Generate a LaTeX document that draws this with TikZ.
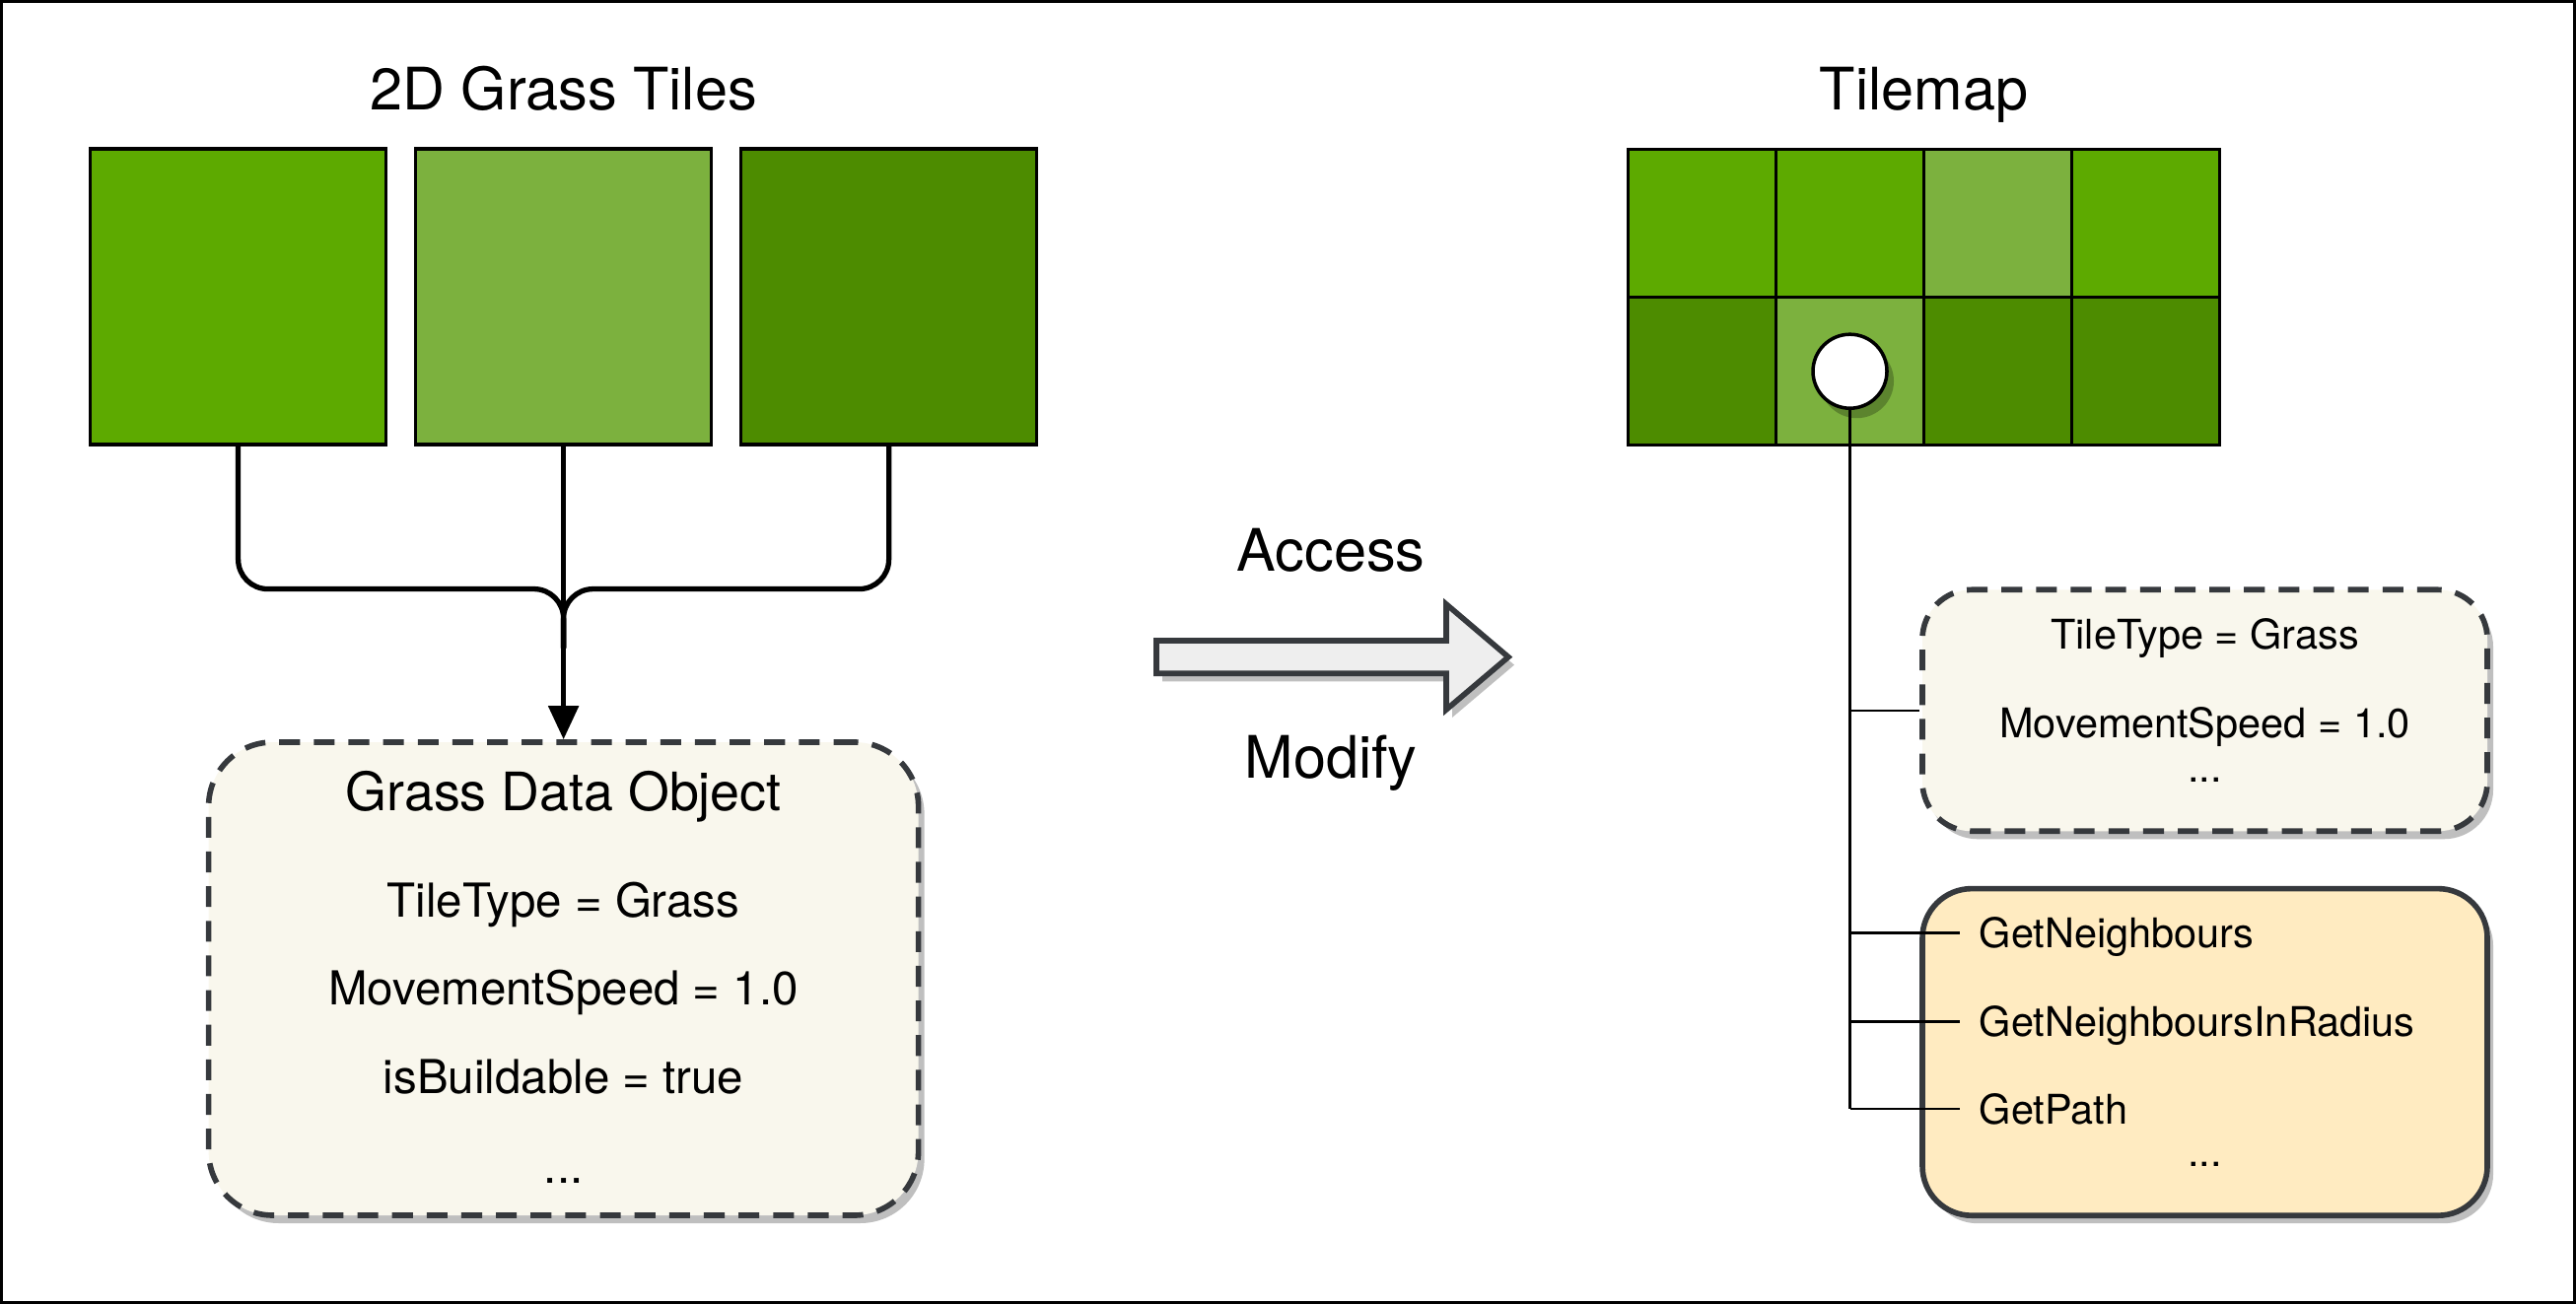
\documentclass[tikz,border=0pt]{standalone}
\usepackage{fontspec}
\setmainfont{TeX Gyre Heros}
\usetikzlibrary{arrows.meta,positioning,calc,shadows}

\definecolor{grassBright}{HTML}{5DAA00}
\definecolor{grassLight}{HTML}{7CB13E}
\definecolor{grassDark}{HTML}{4D8C00}
\definecolor{edgeGrey}{HTML}{36393D}
\definecolor{paperFill}{HTML}{F9F7ED}
\definecolor{methodFill}{HTML}{FFEBC1}
\definecolor{arrowFill}{HTML}{EEEEEE}

\newcommand{\fontTitle}{\fontsize{16.9}{20}\selectfont}
\newcommand{\fontHead}{\fontsize{15.3}{18}\selectfont}
\newcommand{\fontEntry}{\fontsize{13.5}{16}\selectfont}
\newcommand{\fontSmall}{\fontsize{11.8}{14}\selectfont}

\begin{document}
\begin{tikzpicture}[
    gtile/.style={draw=black,line width=1pt,minimum size=3cm,inner sep=0pt},
    gcell/.style={draw=black,line width=1pt,minimum size=1.5cm,inner sep=0pt},
    gshadow/.style={drop shadow={shadow xshift=0.06cm,shadow yshift=-0.08cm,
        fill=black,opacity=0.25}},
    gdata/.style={gshadow,draw=edgeGrey,fill=paperFill,line width=1.6pt,
        dash pattern=on 6pt off 4pt,rounded corners=0.65cm,inner sep=0pt},
    gmethods/.style={gshadow,draw=edgeGrey,fill=methodFill,line width=1.6pt,
        rounded corners=0.5cm,inner sep=0pt},
    gtitle/.style={font=\fontTitle,anchor=base,inner sep=0pt},
    gentry/.style={font=\fontEntry,anchor=base,inner sep=0pt},
    gsmall/.style={font=\fontSmall,anchor=base,inner sep=0pt},
    gfeed/.style={draw=black,line width=1.5pt,rounded corners=0.3cm},
    gfeedarrow/.style={-{Triangle[length=3.4mm,width=3mm]},draw=black,line width=1.5pt},
    gbranch/.style={draw=black,line width=0.7pt}
]
\useasboundingbox (0,0) rectangle (26.13,-13.23);
\draw[line width=0.033cm] (0.0165,-0.0165) rectangle (26.1135,-13.2135);

% grass tiles
\node[gtitle] (tilesTitle) at (5.716,-1.114) {2D Grass Tiles};
\node[gtile,fill=grassBright] (tileA) at (2.416,-3.008) {};
\node[gtile,fill=grassLight,right=2.65mm of tileA] (tileB) {};
\node[gtile,fill=grassDark,right=2.65mm of tileB] (tileC) {};

% data object
\node[gdata,minimum width=7.2cm,minimum height=4.8cm] (dataObj) at (tileB |- 0,-9.93) {};
\node[gtitle,font=\fontHead] (dataHead) at (5.716,-8.22) {Grass Data Object};
\node[gentry] (dataType) at (5.716,-9.30) {TileType = Grass};
\node[gentry] (dataSpeed) at (5.716,-10.19) {MovementSpeed = 1.0};
\node[gentry] (dataBuild) at (5.716,-11.09) {isBuildable = true};
\node[gentry] (dataMore) at (5.716,-12.0) {...};

\coordinate (joinBar) at ([yshift=-1.45cm]tileB.south);
\coordinate (joinStem) at ([yshift=-0.6cm]joinBar);
\draw[gfeed] (tileA.south) |- (joinBar) -- (joinStem);
\draw[gfeed] (tileC.south) |- (joinBar) -- (joinStem);
\draw[gfeedarrow] (tileB.south) -- (dataObj.north);

% access arrow
\node[gtitle] (accessText) at (13.5,-5.797) {Access};
\node[gtitle] (modifyText) at (13.5,-7.897) {Modify};
\filldraw[gshadow,draw=edgeGrey,fill=arrowFill,line width=1.6pt]
    (11.73,-6.5) -- (14.67,-6.5) -- (14.67,-6.13) -- (15.30,-6.666)
    -- (14.67,-7.2) -- (14.67,-6.833) -- (11.73,-6.833) -- cycle;

% tilemap
\node[gtitle] (mapTitle) at (19.515,-1.114) {Tilemap};
\foreach \col/\topfill/\lowfill in {1/grassBright/grassDark,2/grassBright/grassLight,
    3/grassLight/grassDark,4/grassBright/grassDark}{
  \node[gcell,fill=\topfill] (map-1-\col) at ({17.265+(\col-1)*1.5},-2.267) {};
  \node[gcell,fill=\lowfill] (map-2-\col) at ({17.265+(\col-1)*1.5},-3.767) {};
}
\node[circle,draw=black,fill=white,line width=1pt,minimum size=0.75cm,inner sep=0pt,
    drop shadow={shadow xshift=0.07cm,shadow yshift=-0.1cm,fill=black,opacity=0.25}]
    (probe) at (map-2-2) {};

% tile data and methods
\node[gdata,rounded corners=0.5cm,minimum width=5.73cm,minimum height=2.45cm]
    (tileData) at (22.365,-7.208) {};
\node[gsmall] (tdType) at (22.365,-6.583) {TileType = Grass};
\node[gsmall] (tdSpeed) at (22.365,-7.483) {MovementSpeed = 1.0};
\node[gsmall] (tdMore) at (22.365,-7.93) {...};

\node[gmethods,minimum width=5.73cm,minimum height=3.316cm] (methods) at (22.365,-10.674) {};
\node[gsmall,anchor=base west] (mNeighbours) at (20.07,-9.616) {GetNeighbours};
\node[gsmall,anchor=base west] (mRadius) at (20.07,-10.516) {GetNeighboursInRadius};
\node[gsmall,anchor=base west] (mPath) at (20.07,-11.40) {GetPath};
\node[gsmall] (mMore) at (22.365,-11.83) {...};

\coordinate (rowNeighbours) at ([yshift=1.5mm]mNeighbours.base west);
\coordinate (rowRadius) at ([yshift=1.5mm]mRadius.base west);
\coordinate (rowPath) at ([yshift=1.5mm]mPath.base west);
\draw[gbranch] (probe.south) -- (probe.south |- rowPath);
\draw[gbranch] (probe.south |- tileData.west) -- (tileData.west);
\draw[gbranch] (probe.south |- rowNeighbours) -- ([xshift=-1.9mm]rowNeighbours);
\draw[gbranch] (probe.south |- rowRadius) -- ([xshift=-1.9mm]rowRadius);
\draw[gbranch] (probe.south |- rowPath) -- ([xshift=-1.9mm]rowPath);
\end{tikzpicture}
\end{document}
